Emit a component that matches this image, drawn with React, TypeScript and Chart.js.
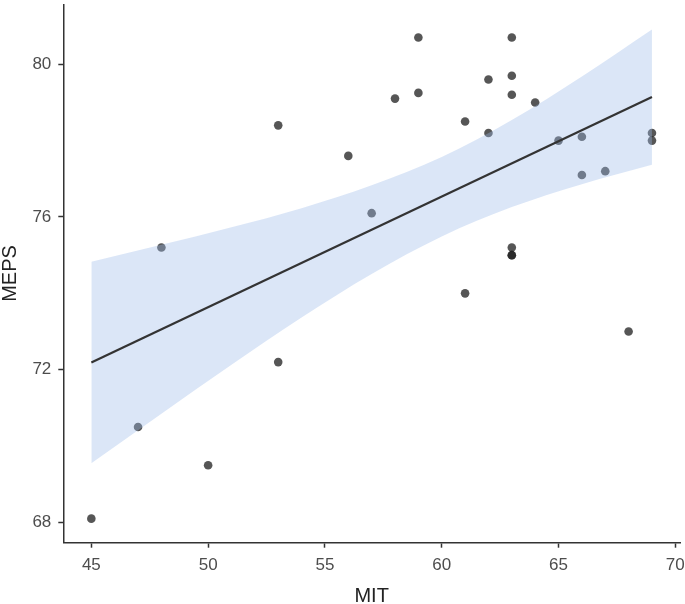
import { useEffect, useRef } from "react";
import { Chart, registerables } from "chart.js";

Chart.register(...registerables);

// observed pairs
const mit = [45, 47, 48, 50, 53, 53, 56, 57, 58, 59, 59, 61, 61, 62, 62, 63, 63, 63, 63, 63, 63, 64, 65, 66, 66, 67, 68, 69, 69];
const meps = [68.1, 70.5, 75.2, 69.5, 72.2, 78.4, 77.6, 76.1, 79.1, 79.25, 80.7, 78.5, 74.0, 79.6, 78.2, 80.7, 79.7, 79.2, 75.2, 75.0, 75.0, 79.0, 78.0, 78.1, 77.1, 77.2, 73.0, 78.2, 78.0];

// fitted line and its confidence band
const fitX = [45, 69];
const fitY = [72.19, 79.14];
const bandX = [45, 48, 51, 54, 57, 60, 63, 66, 69];
const bandUpper = [74.83, 75.27, 75.73, 76.23, 76.83, 77.57, 78.54, 79.68, 80.91];
const bandLower = [69.55, 70.85, 72.13, 73.37, 74.51, 75.49, 76.26, 76.86, 77.37];

const xTicks = [45, 50, 55, 60, 65, 70];
const yTicks = [68, 72, 76, 80];

const font = "'Liberation Sans', Arial, sans-serif";
const axisColor = "#333333";

export default function App() {
  const ref = useRef<HTMLCanvasElement>(null);

  useEffect(() => {
    document.body.style.margin = "0";
    if (!ref.current) return;
    const chart = new Chart(ref.current, {
      type: "scatter",
      data: {
        datasets: [
          {
            type: "scatter",
            label: "points",
            data: mit.map((x, i) => ({ x, y: meps[i] })),
            backgroundColor: "rgba(30,30,30,0.75)",
            borderWidth: 0,
            pointRadius: 4.3,
            order: 3,
          },
          {
            type: "line",
            label: "upper",
            data: bandX.map((x, i) => ({ x, y: bandUpper[i] })),
            borderWidth: 0,
            pointRadius: 0,
            cubicInterpolationMode: "monotone",
            fill: "+1",
            backgroundColor: "rgba(158,187,233,0.37)",
            order: 2,
          },
          {
            type: "line",
            label: "lower",
            data: bandX.map((x, i) => ({ x, y: bandLower[i] })),
            borderWidth: 0,
            pointRadius: 0,
            cubicInterpolationMode: "monotone",
            fill: false,
            order: 2,
          },
          {
            type: "line",
            label: "fit",
            data: fitX.map((x, i) => ({ x, y: fitY[i] })),
            borderColor: "#333333",
            borderWidth: 2.2,
            pointRadius: 0,
            fill: false,
            order: 1,
          },
        ],
      },
      options: {
        responsive: false,
        animation: false,
        layout: { padding: { top: 0, right: 5, bottom: 0, left: 0 } },
        plugins: {
          legend: { display: false },
          tooltip: { enabled: false },
        },
        scales: {
          x: {
            type: "linear",
            min: 43.8,
            max: 70.2,
            afterBuildTicks: (scale) => {
              scale.ticks = xTicks.map((v) => ({ value: v }));
            },
            afterFit: (scale) => {
              scale.height = 61.3;
              scale.paddingLeft = 0;
              scale.paddingRight = 0;
            },
            grid: {
              drawOnChartArea: false,
              drawTicks: true,
              tickLength: 5,
              tickColor: axisColor,
              tickWidth: 1.5,
            },
            border: { display: true, color: axisColor, width: 1.5 },
            ticks: {
              padding: 7,
              color: "#4d4d4d",
              font: { family: font, size: 17 },
              maxRotation: 0,
            },
            title: {
              display: true,
              text: "MIT",
              color: "#222222",
              font: { family: font, size: 20, lineHeight: 0.8 },
              padding: 0,
            },
          },
          y: {
            type: "linear",
            min: 67.47,
            max: 81.57,
            afterBuildTicks: (scale) => {
              scale.ticks = yTicks.map((v) => ({ value: v }));
            },
            afterFit: (scale) => {
              scale.width = 63.3;
              scale.paddingTop = 0;
              scale.paddingBottom = 0;
            },
            grid: {
              drawOnChartArea: false,
              drawTicks: true,
              tickLength: 5,
              tickColor: axisColor,
              tickWidth: 1.5,
            },
            border: { display: true, color: axisColor, width: 1.5 },
            ticks: {
              padding: 7,
              color: "#4d4d4d",
              font: { family: font, size: 17 },
            },
            title: {
              display: true,
              text: "MEPS",
              color: "#222222",
              font: { family: font, size: 20, lineHeight: 1 },
              padding: 0,
            },
          },
        },
      },
    });
    return () => {
      chart.destroy();
    };
  }, []);

  return <canvas ref={ref} width={685} height={604} />;
}
